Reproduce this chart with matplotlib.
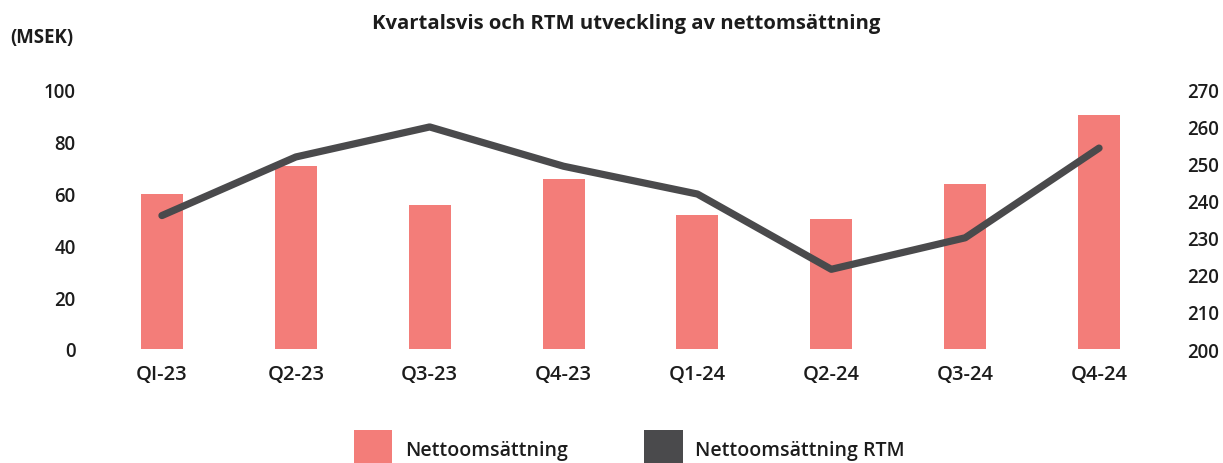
import matplotlib
matplotlib.use("Agg")
import matplotlib.pyplot as plt
from matplotlib.patches import Rectangle

categories = ["QI-23", "Q2-23", "Q3-23", "Q4-23", "Q1-24", "Q2-24", "Q3-24", "Q4-24"]
nettoomsattning = [59.8, 70.6, 55.5, 65.6, 51.6, 50.1, 63.7, 90.1]
nettoomsattning_rtm = [236.0, 251.8, 259.9, 249.3, 241.8, 221.5, 230.0, 254.2]
left_ticks = [0, 20, 40, 60, 80, 100]
right_ticks = [200, 210, 220, 230, 240, 250, 260, 270]

title = "Kvartalsvis och RTM utveckling av nettomsättning"
unit_label = "(MSEK)"
legend_labels = ["Nettoomsättning", "Nettoomsättning RTM"]

BAR_COLOR = "#f37d79"
LINE_COLOR = "#4a4a4c"
TEXT_COLOR = "#1c1c1c"

plt.rcParams["font.family"] = ["Open Sans", "DejaVu Sans"]
plt.rcParams["font.weight"] = 600

W, H = 1223, 464
fig = plt.figure(figsize=(W / 100, H / 100), dpi=100)
ax = fig.add_axes([95 / W, (H - 350) / H, (1166 - 95) / W, (350 - 90.5) / H])
ax2 = ax.twinx()

x = list(range(len(categories)))
ax.bar(x, nettoomsattning, width=0.313, color=BAR_COLOR, zorder=2)
ax2.plot(x, nettoomsattning_rtm, color=LINE_COLOR, linewidth=5.2,
         solid_capstyle="round", solid_joinstyle="round", zorder=3)

ax.set_xlim(-0.5, len(categories) - 0.5)
ax.set_ylim(0, 100)
ax2.set_ylim(200, 270)
ax.set_xticks(x)
ax.set_xticklabels(categories)
ax.set_yticks(left_ticks)
ax2.set_yticks(right_ticks)

for a in (ax, ax2):
    for s in a.spines.values():
        s.set_visible(False)
    a.tick_params(length=0, labelsize=13.4, labelcolor=TEXT_COLOR)
ax.tick_params(axis="y", pad=14)
ax.tick_params(axis="x", pad=11, labelsize=14.5)
ax2.tick_params(axis="y", pad=15.5)
for lbl in ax.get_yticklabels() + ax.get_xticklabels() + ax2.get_yticklabels():
    lbl.set_fontweight(600)

fig.text(626 / W, 1 - 24 / H, title, ha="center", va="center",
         fontsize=14.6, fontweight=700, color=TEXT_COLOR)
fig.text(10 / W, 1 - 38 / H, unit_label, ha="left", va="center",
         fontsize=13.4, fontweight=700, color=TEXT_COLOR)

# legend
fig.patches.append(Rectangle((354 / W, 0), 38 / W, 33 / H, transform=fig.transFigure,
                             facecolor=BAR_COLOR, edgecolor="none"))
fig.text(405 / W, 1 - 451 / H, legend_labels[0], ha="left", va="center",
         fontsize=14, fontweight=600, color=TEXT_COLOR)
fig.patches.append(Rectangle((644 / W, 0), 39 / W, 33 / H, transform=fig.transFigure,
                             facecolor=LINE_COLOR, edgecolor="none"))
fig.text(695 / W, 1 - 451 / H, legend_labels[1], ha="left", va="center",
         fontsize=14, fontweight=600, color=TEXT_COLOR)

fig.savefig("out.png", dpi=100)
